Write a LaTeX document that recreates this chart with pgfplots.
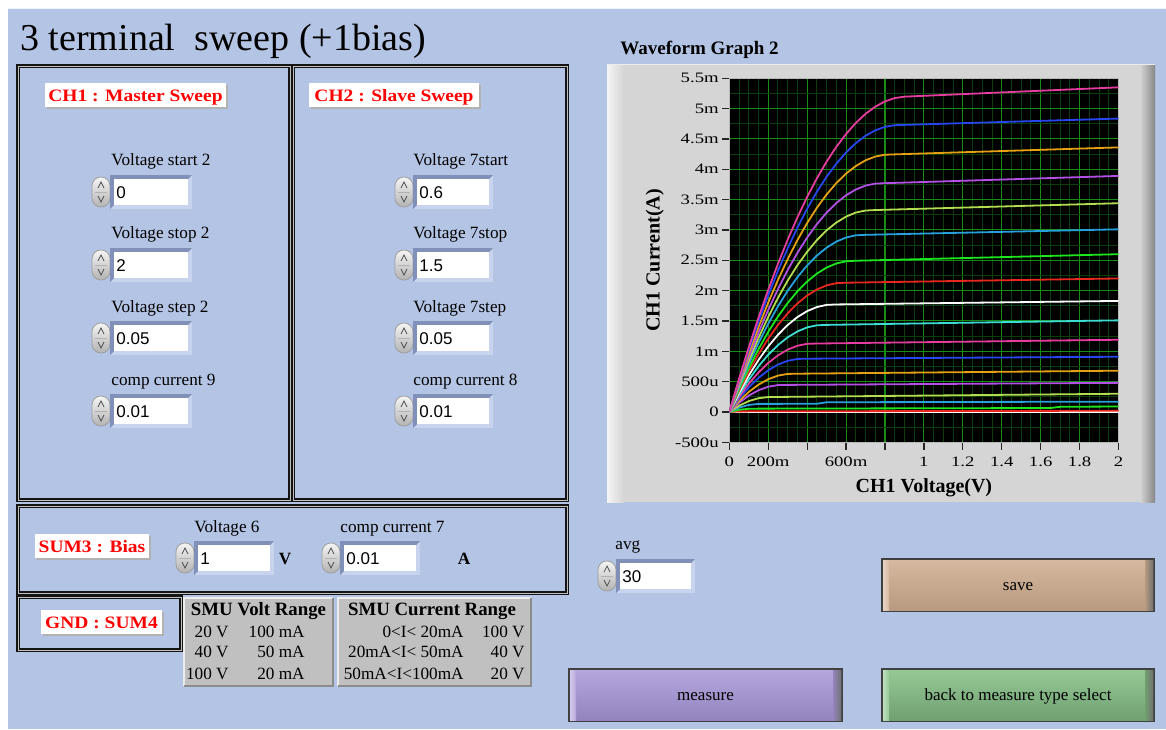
\documentclass[border=0pt]{standalone}
\usepackage{pgfplots}
\pgfplotsset{compat=1.18}
\usepackage{fontspec}
\setmainfont{Liberation Serif}
\newfontfamily\tickfont[FakeStretch=1.3]{Liberation Serif}
\newfontfamily\labfont[FakeStretch=1.12]{Liberation Serif}
\newfontfamily\numfont{Liberation Sans}
\definecolor{bg}{RGB}{180,196,228}
\definecolor{boxlight}{RGB}{200,212,238}
\definecolor{boxdark}{RGB}{128,144,184}
\definecolor{tablegray}{RGB}{192,192,192}
\definecolor{gridmaj}{RGB}{22,140,22}
\definecolor{gridmin}{RGB}{10,62,10}
\definecolor{cA}{RGB}{255,255,255}
\definecolor{cB}{RGB}{232,40,30}
\definecolor{cC}{RGB}{30,230,30}
\definecolor{cD}{RGB}{40,160,220}
\definecolor{cE}{RGB}{180,220,80}
\definecolor{cF}{RGB}{180,80,230}
\definecolor{cG}{RGB}{230,160,20}
\definecolor{cH}{RGB}{40,70,240}
\definecolor{cI}{RGB}{230,60,160}
\definecolor{cJ}{RGB}{60,220,210}
\definecolor{saveT}{RGB}{214,184,160}
\definecolor{saveB}{RGB}{184,154,128}
\definecolor{measT}{RGB}{182,166,222}
\definecolor{measB}{RGB}{148,132,190}
\definecolor{backT}{RGB}{150,200,150}
\definecolor{backB}{RGB}{112,160,112}

% numeric control: #1 spinner left x, #2 box right x, #3 centre y, #4 value
\newcommand{\numctl}[4]{%
  \shade[top color=gray!8, bottom color=gray!60, draw=gray!75, rounded corners=4.4pt] (#1,{#3-15}) rectangle ({#1+18},{#3+15});
  \draw[black!70, line width=0.35pt] ({#1+6},{#3-4}) -- ({#1+9},{#3-10}) -- ({#1+12},{#3-4});
  \draw[black!70, line width=0.35pt] ({#1+6},{#3+4}) -- ({#1+9},{#3+10}) -- ({#1+12},{#3+4});
  \draw[gray!60, line width=0.3pt] ({#1+3},#3) -- ({#1+15},#3);
  \fill[boxlight] ({#1+18},{#3-17}) rectangle (#2,{#3+17});
  \fill[boxdark] ({#1+18},{#3-17}) -- (#2,{#3-17}) -- ({#2-4},{#3-13}) -- ({#1+22},{#3-13}) -- ({#1+22},{#3+13}) -- ({#1+18},{#3+17}) -- cycle;
  \fill[white] ({#1+22},{#3-13}) rectangle ({#2-4},{#3+13});
  \node[anchor=base west, inner sep=0, font=\numfont\fontsize{8.5}{10}\selectfont] at ({#1+24},{#3+6}) {#4};
}
% grooved panel
\newcommand{\panel}[4]{%
  \draw[line width=2.1pt, draw=black!92] (#1,#2) rectangle (#3,#4);
  \draw[line width=0.5pt, draw=gray!50] (#1,#2) rectangle (#3,#4);
}
% red label on white box: x1 y1 x2 y2 text
\newcommand{\redlabel}[5]{%
  \fill[gray!60] ({#1+2},{#2+2}) rectangle ({#3+2},{#4+2});
  \fill[white] (#1,#2) rectangle (#3,#4);
  \node[anchor=base, inner sep=0, text=red, font=\labfont\bfseries\fontsize{8.7}{10}\selectfont] at ({(#1+#3)/2},{(#2+#4)/2+6}) {#5};
}
% button: x1 y1 x2 y2 top bottom text
\newcommand{\button}[7]{%
  \fill[black!75] (#1,#2) rectangle (#3,#4);
  \shade[top color=#5, bottom color=#6] ({#1+2},{#2+2}) rectangle ({#3-2},{#4-2});
  \shade[left color=#6, right color=black!55] ({#3-10},{#2+2}) rectangle ({#3-2},{#4-2});
  \shade[left color=white!40!#5, right color=#5] ({#1+2},{#2+2}) rectangle ({#1+8},{#4-2});
  \node[anchor=base, inner sep=0, font=\fontsize{8.5}{10}\selectfont] at ({(#1+#3)/2},{(#2+#4)/2+5}) {#7};
}

\begin{document}
\begin{tikzpicture}
\begin{scope}[x=0.5pt,y=-0.5pt]
\path[use as bounding box] (0,0) rectangle (1166,729);
\fill[white] (0,0) rectangle (1166,729);
\fill[bg] (8,8) rectangle (1166,729);
\draw[white!80!bg, line width=0.6pt] (8,8.5) -- (1166,8.5);

% title
\node[anchor=base west, inner sep=0, font=\fontsize{19}{22}\selectfont] at (20,50) {3 terminal\hspace{0.5em}sweep (+1bias)};

% panels
\panel{18}{66}{290}{500}
\panel{293}{66}{567}{500}
\panel{18}{506}{567}{593}
\panel{18}{597}{181}{650}

\redlabel{45}{83}{226}{107}{CH1 : Master Sweep}
\redlabel{309}{83}{479}{107}{CH2 : Slave Sweep}
\redlabel{35}{534}{149}{558}{SUM3 : Bias}
\redlabel{41}{610}{162}{634}{GND : SUM4}

% control labels
\begin{scope}[every node/.style={anchor=base west, inner sep=0, font=\fontsize{8.6}{10}\selectfont}]
\node at (111,165) {Voltage start 2};
\node at (111,238) {Voltage stop 2};
\node at (111,312) {Voltage step 2};
\node at (111,385) {comp current 9};
\node at (413,165) {Voltage 7start};
\node at (413,238) {Voltage 7stop};
\node at (413,312) {Voltage 7step};
\node at (413,385) {comp current 8};
\node at (194,532) {Voltage 6};
\node at (340,532) {comp current 7};
\node at (615,549) {avg};
\end{scope}
\numctl{92}{192}{192}{0}
\numctl{92}{192}{265}{2}
\numctl{92}{192}{338}{0.05}
\numctl{92}{192}{411}{0.01}
\numctl{395}{493}{192}{0.6}
\numctl{395}{493}{265}{1.5}
\numctl{395}{493}{338}{0.05}
\numctl{395}{493}{411}{0.01}
\numctl{176}{274}{558}{1}
\numctl{322}{420}{558}{0.01}
\numctl{598}{695}{576}{30}
\node[anchor=base, inner sep=0, font=\bfseries\fontsize{8.6}{10}\selectfont] at (285,564) {V};
\node[anchor=base, inner sep=0, font=\bfseries\fontsize{8.6}{10}\selectfont] at (464,564) {A};

% tables
\fill[tablegray] (184,598) rectangle (333,686);
\draw[white!70!tablegray, line width=0.6pt] (184,686) -- (184,598) -- (333,598);
\draw[gray!90, line width=0.8pt] (333,598) -- (333,686) -- (184,686);
\fill[tablegray] (338,598) rectangle (531,686);
\draw[white!70!tablegray, line width=0.6pt] (338,686) -- (338,598) -- (531,598);
\draw[gray!90, line width=0.8pt] (531,598) -- (531,686) -- (338,686);
\node[anchor=base, inner sep=0, font=\bfseries\fontsize{9.4}{11}\selectfont] at (258.5,615) {SMU Volt Range};
\node[anchor=base, inner sep=0, font=\bfseries\fontsize{9.4}{11}\selectfont] at (432,615) {SMU Current Range};
\begin{scope}[every node/.style={anchor=base east, inner sep=0, font=\fontsize{8.6}{10}\selectfont}]
\node at (229,637) {20 V};
\node at (229,657) {40 V};
\node at (229,679) {100 V};
\node at (305,637) {100 mA};
\node at (305,657) {50 mA};
\node at (305,679) {20 mA};
\node at (464,637) {0<I< 20mA};
\node at (464,657) {20mA<I< 50mA};
\node at (464,679) {50mA<I<100mA};
\node at (525,637) {100 V};
\node at (525,657) {40 V};
\node at (525,679) {20 V};
\end{scope}

% buttons
\button{881}{558}{1155}{612}{saveT}{saveB}{save}
\button{568}{668}{843}{722}{measT}{measB}{measure}
\button{881}{668}{1155}{722}{backT}{backB}{back to measure type select}

% graph frame
\node[anchor=base west, inner sep=0, font=\bfseries\fontsize{9.5}{11}\selectfont] at (620,54) {Waveform Graph 2};
\fill[gray!33] (607,64) rectangle (1155,502);
\shade[left color=gray!8, right color=gray!33] (607,64) rectangle (624,502);
\shade[left color=gray!33, right color=gray!95] (1140,64) rectangle (1155,502);
\draw[white!85!gray, line width=0.6pt] (607,64.5) -- (1155,64.5);
\end{scope}

\begin{axis}[
  at={(364.65pt,-221.15pt)}, anchor=south west,
  scale only axis, width=194.6pt, height=182.05pt,
  xmin=0, xmax=2, ymin=-0.5, ymax=5.5,
  axis background/.style={fill=black},
  axis line style={draw=gray!55, line width=0.5pt},
  xtick={0,0.2,0.4,0.6,0.8,1,1.2,1.4,1.6,1.8,2},
  xticklabels={0,200m,,600m,,1,1.2,1.4,1.6,1.8,2},
  ytick={-0.5,0,0.5,1,1.5,2,2.5,3,3.5,4,4.5,5,5.5},
  yticklabels={-500u,0,500u,1m,1.5m,2m,2.5m,3m,3.5m,4m,4.5m,5m,5.5m},
  minor x tick num=3, minor y tick num=1,
  grid=both,
  major grid style={draw=gridmaj, line width=0.55pt},
  minor grid style={draw=gridmin, line width=0.5pt},
  tick align=outside, xtick pos=bottom, ytick pos=left,
  major tick length=3.6pt, minor tick length=0pt,
  tick style={draw=black!85, line width=0.6pt},
  tick label style={font=\tickfont\fontsize{7.2}{8}\selectfont, text=black},
  xticklabel style={inner sep=1.5pt, yshift=-2pt},
  yticklabel style={inner sep=1.5pt},
  xlabel={CH1 Voltage(V)}, ylabel={CH1 Current(A)},
  label style={font=\bfseries\fontsize{10}{12}\selectfont},
  xlabel style={at={(axis description cs:0.5,-0.1236)}, anchor=center},
  ylabel style={at={(axis description cs:-0.1915,0.5)}, anchor=center},
  every axis plot/.append style={line width=0.9pt},
]
\addplot[cA] coordinates {(0,0)(2,0)};
\addplot[cB] coordinates {(0,0)(0.05,0.010)(1,0.015)(2,0.02)};
\addplot[cC] coordinates {(0,0)(0.05,0.037)(0.1,0.052)(0.15,0.055)(1.65,0.065)(1.7,0.085)(2,0.09)};
\addplot[cD] coordinates {(0,0)(0.05,0.072)(0.1,0.116)(0.15,0.133)(0.45,0.135)(0.5,0.16)(2,0.17)};
\addplot[cE] coordinates {(0,0)(0.05,0.103)(0.1,0.179)(0.15,0.227)(0.2,0.246)(0.25,0.2475)(2,0.30)};
\addplot[cF] coordinates {(0,0)(0.05,0.150)(0.1,0.269)(0.15,0.358)(0.2,0.416)(0.25,0.443)(0.3,0.446)(2,0.48)};
\addplot[cG] coordinates {(0,0)(0.05,0.180)(0.1,0.330)(0.15,0.450)(0.2,0.540)(0.25,0.599)(0.3,0.627)(0.35,0.6305)(2,0.68)};
\addplot[cH] coordinates {(0,0)(0.05,0.218)(0.1,0.406)(0.15,0.562)(0.2,0.687)(0.25,0.781)(0.3,0.843)(0.35,0.874)(0.4,0.878)(2,0.91)};
\addplot[cI] coordinates {(0,0)(0.05,0.247)(0.1,0.464)(0.15,0.651)(0.2,0.807)(0.25,0.933)(0.3,1.027)(0.35,1.091)(0.4,1.123)(0.45,1.128)(2,1.19)};
\addplot[cJ] coordinates {(0,0)(0.05,0.281)(0.1,0.532)(0.15,0.753)(0.2,0.943)(0.25,1.102)(0.3,1.230)(0.35,1.327)(0.4,1.394)(0.45,1.428)(0.5,1.435)(2,1.51)};
\addplot[cA] coordinates {(0,0)(0.05,0.316)(0.1,0.601)(0.15,0.856)(0.2,1.080)(0.25,1.272)(0.3,1.433)(0.35,1.564)(0.4,1.662)(0.45,1.729)(0.5,1.765)(0.55,1.772)(2,1.83)};
\addplot[cB] coordinates {(0,0)(0.05,0.348)(0.1,0.665)(0.15,0.952)(0.2,1.208)(0.25,1.432)(0.3,1.626)(0.35,1.788)(0.4,1.919)(0.45,2.018)(0.5,2.086)(0.55,2.123)(0.6,2.13)(2,2.20)};
\addplot[cC] coordinates {(0,0)(0.05,0.375)(0.1,0.720)(0.15,1.034)(0.2,1.319)(0.25,1.573)(0.3,1.796)(0.35,1.988)(0.4,2.150)(0.45,2.280)(0.5,2.380)(0.55,2.447)(0.6,2.484)(0.65,2.492)(2,2.60)};
\addplot[cD] coordinates {(0,0)(0.05,0.409)(0.1,0.788)(0.15,1.136)(0.2,1.454)(0.25,1.741)(0.3,1.997)(0.35,2.221)(0.4,2.415)(0.45,2.577)(0.5,2.708)(0.55,2.808)(0.6,2.875)(0.65,2.911)(0.7,2.919)(2,3.01)};
\addplot[cE] coordinates {(0,0)(0.05,0.436)(0.1,0.843)(0.15,1.219)(0.2,1.565)(0.25,1.880)(0.3,2.164)(0.35,2.418)(0.4,2.640)(0.45,2.832)(0.5,2.993)(0.55,3.122)(0.6,3.219)(0.65,3.286)(0.7,3.320)(0.75,3.3275)(2,3.44)};
\addplot[cF] coordinates {(0,0)(0.05,0.465)(0.1,0.901)(0.15,1.306)(0.2,1.681)(0.25,2.025)(0.3,2.339)(0.35,2.622)(0.4,2.874)(0.45,3.095)(0.5,3.285)(0.55,3.443)(0.6,3.571)(0.65,3.666)(0.7,3.731)(0.75,3.763)(0.8,3.77)(2,3.89)};
\addplot[cG] coordinates {(0,0)(0.05,0.496)(0.1,0.962)(0.15,1.397)(0.2,1.802)(0.25,2.176)(0.3,2.519)(0.35,2.832)(0.4,3.114)(0.45,3.364)(0.5,3.584)(0.55,3.772)(0.6,3.928)(0.65,4.053)(0.7,4.147)(0.75,4.209)(0.8,4.239)(0.85,4.245)(2,4.36)};
\addplot[cH] coordinates {(0,0)(0.05,0.526)(0.1,1.022)(0.15,1.487)(0.2,1.921)(0.25,2.325)(0.3,2.697)(0.35,3.038)(0.4,3.349)(0.45,3.628)(0.5,3.876)(0.55,4.092)(0.6,4.277)(0.65,4.430)(0.7,4.552)(0.75,4.641)(0.8,4.699)(0.85,4.726)(0.9,4.731)(2,4.835)};
\addplot[cI] coordinates {(0,0)(0.05,0.548)(0.1,1.067)(0.15,1.556)(0.2,2.014)(0.25,2.442)(0.3,2.840)(0.35,3.207)(0.4,3.544)(0.45,3.850)(0.5,4.125)(0.55,4.369)(0.6,4.581)(0.65,4.763)(0.7,4.913)(0.75,5.031)(0.8,5.118)(0.85,5.173)(0.9,5.196)(2,5.35)};
\end{axis}
\end{tikzpicture}
\end{document}
